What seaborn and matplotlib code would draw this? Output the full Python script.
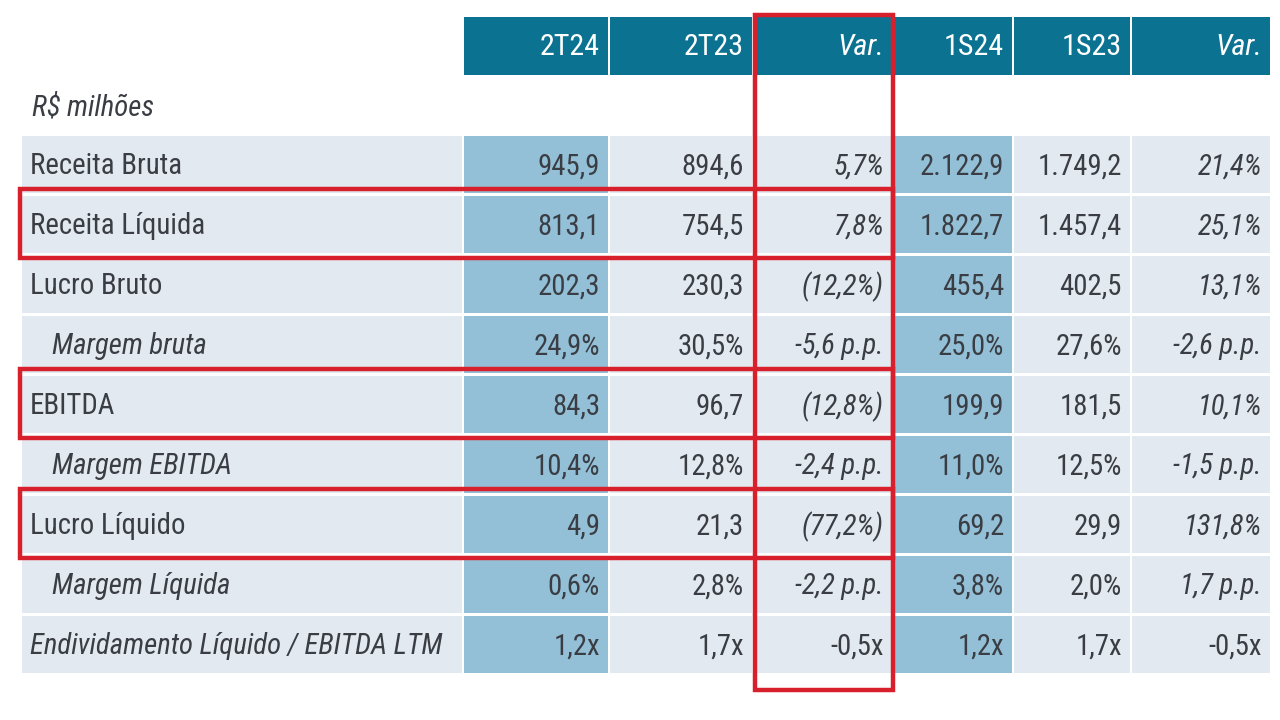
import matplotlib
matplotlib.use("Agg")
import matplotlib.pyplot as plt
import matplotlib.patches as mpatches
from matplotlib import font_manager
import seaborn as sns
import pandas as pd

# table data
headers = ["2T24", "2T23", "Var.", "1S24", "1S23", "Var."]
unit_label = "R$ milhões"
labels = ["Receita Bruta", "Receita Líquida", "Lucro Bruto", "Margem bruta", "EBITDA",
          "Margem EBITDA", "Lucro Líquido", "Margem Líquida",
          "Endividamento Líquido / EBITDA LTM"]
t24 = ["945,9", "813,1", "202,3", "24,9%", "84,3", "10,4%", "4,9", "0,6%", "1,2x"]
t23 = ["894,6", "754,5", "230,3", "30,5%", "96,7", "12,8%", "21,3", "2,8%", "1,7x"]
var_t = ["5,7%", "7,8%", "(12,2%)", "-5,6 p.p.", "(12,8%)", "-2,4 p.p.", "(77,2%)", "-2,2 p.p.", "-0,5x"]
s24 = ["2.122,9", "1.822,7", "455,4", "25,0%", "199,9", "11,0%", "69,2", "3,8%", "1,2x"]
s23 = ["1.749,2", "1.457,4", "402,5", "27,6%", "181,5", "12,5%", "29,9", "2,0%", "1,7x"]
var_s = ["21,4%", "25,1%", "13,1%", "-2,6 p.p.", "10,1%", "-1,5 p.p.", "131,8%", "1,7 p.p.", "-0,5x"]
highlight_rows = ["Receita Líquida", "EBITDA", "Lucro Líquido"]

df = pd.DataFrame({"label": labels, "2T24": t24, "2T23": t23, "VarT": var_t,
                   "1S24": s24, "1S23": s23, "VarS": var_s})
value_cols = ["2T24", "2T23", "VarT", "1S24", "1S23", "VarS"]

# layout (pixels)
col_left = [22, 464, 610, 754, 894, 1014, 1132]
col_right = [462, 608, 752, 892, 1012, 1130, 1270]
row_top0, row_pitch, row_h = 136, 60, 57
head_top, head_bot = 17, 75

TEAL = "#0B7391"
BLUE = "#93C0D7"
LIGHT = "#E3E9F0"
TEXT = "#3A3E44"
RED = "#D7202B"

sns.set_theme(style="white")


def pick_fonts():
    """look for a narrow / condensed sans face, fall back to DejaVu Sans"""
    narrow = [f for f in font_manager.fontManager.ttflist
              if ("condensed" in str(f.stretch) or "narrow" in f.name.lower()
                  or "condensed" in f.name.lower())
              and "extra" not in str(f.stretch) and "ultra" not in str(f.stretch)]
    for fam in ["Liberation Sans Narrow", "Arial Narrow", "Noto Sans", "Roboto Condensed",
                "Roboto", "Open Sans", "DejaVu Sans"]:
        cands = [f for f in narrow if f.name.startswith(fam)]
        reg = [f for f in cands if f.style == "normal" and f.weight in (400, "normal", "regular")]
        ita = [f for f in cands if f.style == "italic" and f.weight in (400, "normal", "regular")]
        if reg:
            r = font_manager.FontProperties(fname=reg[0].fname)
            i = font_manager.FontProperties(fname=(ita or reg)[0].fname)
            return r, i
    return (font_manager.FontProperties(family="DejaVu Sans"),
            font_manager.FontProperties(family="DejaVu Sans", style="italic"))


fp_reg, fp_ita = pick_fonts()

fig = plt.figure(figsize=(12.8, 7.2), dpi=100)
ax = fig.add_axes([0, 0, 1, 1])
ax.set_xlim(0, 1280)
ax.set_ylim(720, 0)
ax.axis("off")

# size the font so a sample value has about the reference width
renderer = fig.canvas.get_renderer()
probe = ax.text(0, 0, "945,9", fontproperties=fp_reg, fontsize=20)
w = probe.get_window_extent(renderer).width
probe.remove()
fs = 20 * 62.0 / w
fs_head = fs * 1.05


def fprop(italic):
    return (fp_ita if italic else fp_reg).copy()


widths = [r - l for l, r in zip(col_left, col_right)]
n = len(df)
centers = [row_top0 + row_pitch * i + row_h / 2 for i in range(n)]

# header cells
ax.barh([(head_top + head_bot) / 2] * 6, widths[1:], left=col_left[1:],
        height=head_bot - head_top, color=TEAL, linewidth=0)
for j, h in enumerate(headers):
    ax.text(col_right[j + 1] - 8, (head_top + head_bot) / 2 + 1, h, ha="right", va="center",
            color="white", fontproperties=fprop(h == "Var."), fontsize=fs_head)

ax.text(32, 108, unit_label, ha="left", va="center", fontproperties=fprop(True),
        fontsize=fs, color=TEXT)

# body cells
for j in range(7):
    colr = BLUE if j in (1, 4) else LIGHT
    ax.barh(centers, [widths[j]] * n, left=col_left[j], height=row_h, color=colr, linewidth=0)

for i, row in df.iterrows():
    lab = row["label"]
    indent = lab.startswith("Margem")
    italic = indent or lab.startswith("Endividamento")
    ax.text(52 if indent else 30, centers[i] + 2, lab, ha="left", va="center",
            fontproperties=fprop(italic), fontsize=fs, color=TEXT)
    for j, c in enumerate(value_cols):
        is_var = c.startswith("Var") and i < n - 1
        ax.text(col_right[j + 1] - 8, centers[i] + 2, row[c], ha="right", va="center",
                fontproperties=fprop(is_var), fontsize=fs, color=TEXT)

# red highlight boxes
lw = 3.2
vx0, vx1 = col_left[3] + 1, col_right[3] + 1
ax.add_patch(mpatches.Rectangle((vx0, 15), vx1 - vx0, 690 - 15, fill=False,
                                edgecolor=RED, linewidth=lw, zorder=5))
for lab in highlight_rows:
    i = labels.index(lab)
    top = row_top0 + row_pitch * i - 7
    ax.add_patch(mpatches.Rectangle((20, top), vx1 - 20, row_h + 12, fill=False,
                                    edgecolor=RED, linewidth=lw, zorder=5))

fig.savefig("out.png", dpi=100, facecolor="white")
